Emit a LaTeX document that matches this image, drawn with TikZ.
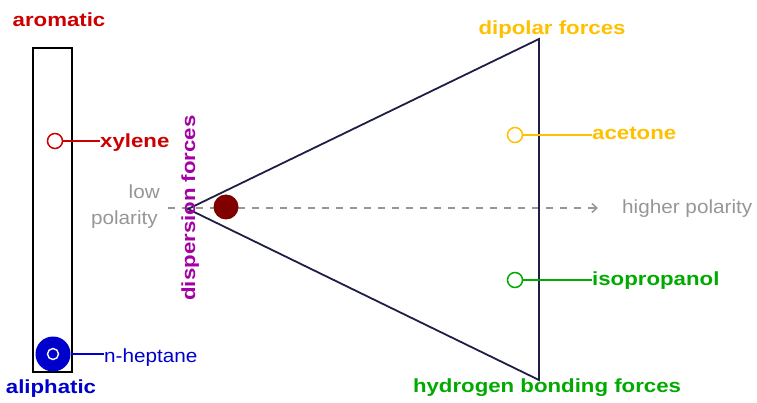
\documentclass[tikz,border=0pt]{standalone}
\usepackage{fontspec}
\newfontfamily\lbl[FakeStretch=1.17]{Liberation Sans}
\newfontfamily\lblr[FakeStretch=1.09]{Liberation Sans}
\usetikzlibrary{arrows.meta}
\definecolor{cred}{RGB}{204,0,0}
\definecolor{cblue}{RGB}{0,0,204}
\definecolor{cpurple}{RGB}{165,0,165}
\definecolor{cyel}{RGB}{255,192,0}
\definecolor{cgreen}{RGB}{0,170,0}
\definecolor{cgray}{RGB}{150,150,150}
\definecolor{cdark}{RGB}{128,0,0}
\definecolor{cnavy}{RGB}{30,30,70}
\tikzset{
  lab/.style={font=\lbl\bfseries\fontsize{19}{21}\selectfont, inner sep=0pt},
  reg/.style={font=\lblr\fontsize{19}{21}\selectfont, inner sep=0pt},
  ring/.style={circle, draw, line width=1.5pt, minimum size=15pt, inner sep=0pt, fill=white},
  tie/.style={line width=1.5pt},
}
\begin{document}
\begin{tikzpicture}[x=1pt,y=-1pt]
\useasboundingbox (0,0) rectangle (757,403);
% column
\draw[line width=1.4pt] (33,48) rectangle (72,372);
\node[lab, text=cred, anchor=base] (arom) at (59,27) {aromatic};
\node[lab, text=cblue, anchor=base] (aliph) at (51,393) {aliphatic};
% xylene
\node[ring, draw=cred] (xc) at (55,141) {};
\node[lab, text=cred, anchor=base west] (xy) at (100,148) {xylene};
\draw[tie, cred] (xc) -- (xy.west |- xc);
% n-heptane
\node[circle, fill=cblue, minimum size=35pt, inner sep=0pt] (hc) at (53,354) {};
\draw[white, line width=1.4pt] (hc.center) circle (5.5pt);
\node[reg, text=cblue, anchor=base west] (hp) at (104,362) {n-heptane};
\draw[tie, cblue] (hc.east) -- (hp.west |- hc);
% triangle
\coordinate (tl) at (188,209);
\coordinate (tt) at (539,39);
\coordinate (tb) at (539,380);
% dashed axis
\coordinate (ds) at (168,208);
\coordinate (de) at (598,208);
\draw[cgray, line width=2.2pt, dash pattern=on 7pt off 7pt, -{Straight Barb[length=5pt,width=9pt,line width=1.5pt]}] (ds) -- (de);
\draw[cnavy, line width=1.8pt, line join=miter] (tl) -- (tt) -- (tb) -- cycle;
\node[circle, fill=cdark, minimum size=25pt, inner sep=0pt] (dot) at (226,207) {};
\node[lab, text=cpurple, rotate=90, anchor=base] (disp) at (195,208) {dispersion forces};
\node[reg, text=cgray, anchor=base east] (low) at (160,199) {low};
\node[reg, text=cgray, anchor=base east] (pol) at (158,225) {polarity};
\node[reg, text=cgray, anchor=base west] (hi) at (622,214) {higher polarity};
% corners
\node[lab, text=cyel, anchor=base] (dip) at (552,35) {dipolar forces};
\node[lab, text=cgreen, anchor=base] (hyd) at (547,392) {hydrogen bonding forces};
% acetone
\node[ring, draw=cyel] (ac) at (515,135) {};
\node[lab, text=cyel, anchor=base west] (at) at (592,140) {acetone};
\draw[tie, cyel] (ac) -- (at.west |- ac);
% isopropanol
\node[ring, draw=cgreen] (ic) at (515,280) {};
\node[lab, text=cgreen, anchor=base west] (it) at (592,285) {isopropanol};
\draw[tie, cgreen] (ic) -- (it.west |- ic);
\end{tikzpicture}
\end{document}
